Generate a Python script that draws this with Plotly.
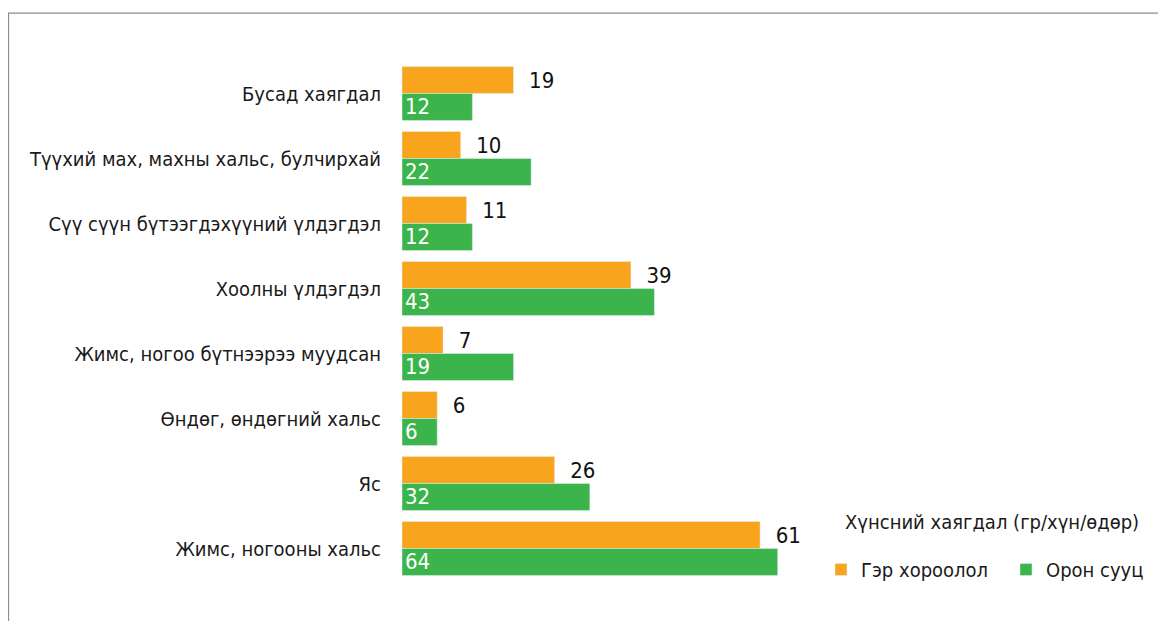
import plotly.graph_objects as go

categories = [
    "Бусад хаягдал",
    "Түүхий мах, махны хальс, булчирхай",
    "Сүү сүүн бүтээгдэхүүний үлдэгдэл",
    "Хоолны үлдэгдэл",
    "Жимс, ногоо бүтнээрээ муудсан",
    "Өндөг, өндөгний хальс",
    "Яс",
    "Жимс, ногооны хальс",
]
ger = [19, 10, 11, 39, 7, 6, 26, 61]
oron = [12, 22, 12, 43, 19, 6, 32, 64]
series_names = ["Гэр хороолол", "Орон сууц"]
legend_title = "Хүнсний хаягдал (гр/хүн/өдөр)"

FAM = "DejaVu Sans Condensed, Liberation Sans Narrow, Roboto, sans-serif"
def F(size, color="#1a1a1a"):
    return dict(family=FAM, size=size, color=color)

ORANGE = "#F8A51D"
GREEN = "#3BB54B"

# page offset (body margin) of 8px
OFF = 8
FW, FH = 1166 - OFF, 621 - OFF

fig = go.Figure()
fig.add_trace(go.Bar(
    y=categories, x=ger, orientation="h", name=series_names[0],
    marker=dict(color=ORANGE), text=ger, texttemplate="  %{x}",
    textposition="outside", textangle=0, textfont=F(22, "#111111"),
    legendrank=1, cliponaxis=False,
))
fig.add_trace(go.Bar(
    y=categories, x=oron, orientation="h", name=series_names[1],
    marker=dict(color=GREEN), text=oron, texttemplate="%{x}",
    textposition="inside", insidetextanchor="start", textangle=0,
    textfont=F(22, "white"),
    legendrank=2,
))

L, T = 402 - OFF, 61 - OFF
R = 324
B = FH - (581.5 - OFF)
W = FW - L - R
H = FH - T - B

def px_x(px):
    return (px - OFF - L) / W

def px_y(py):
    return (FH - B - (py - OFF)) / H

fig.update_layout(
    width=FW, height=FH,
    margin=dict(l=L, r=R, t=T, b=B, autoexpand=False),
    paper_bgcolor="white", plot_bgcolor="white",
    barmode="group", bargap=0.17, bargroupgap=0.0,
    font=F(20),
    uniformtext=dict(mode="show", minsize=22),
    xaxis=dict(range=[0, W / 5.87], visible=False, showgrid=False, zeroline=False),
    yaxis=dict(autorange="reversed", showgrid=False, zeroline=False, showline=False,
               ticks="", ticklabelstandoff=20, tickfont=F(20)),
    legend=dict(
        orientation="h", xref="container", yref="container",
        x=(821 - OFF) / FW, y=1 - (550 - OFF) / FH, xanchor="left", yanchor="top",
        font=F(20),
        itemwidth=30, entrywidth=140, entrywidthmode="pixels",
    ),
    annotations=[dict(
        text=legend_title, xref="paper", yref="paper",
        x=px_x(1141), y=px_y(522), xanchor="right", yanchor="middle",
        showarrow=False, font=F(20),
    )],
    shapes=[
        dict(type="line", xref="paper", yref="paper", x0=px_x(8), x1=px_x(1170), y0=px_y(13), y1=px_y(13),
             line=dict(color="#8c8c8c", width=1.2)),
        dict(type="line", xref="paper", yref="paper", x0=px_x(8.5), x1=px_x(8.5), y0=px_y(13), y1=px_y(630),
             line=dict(color="#8c8c8c", width=1.2)),
    ],
)

fig.write_html("out.html")
